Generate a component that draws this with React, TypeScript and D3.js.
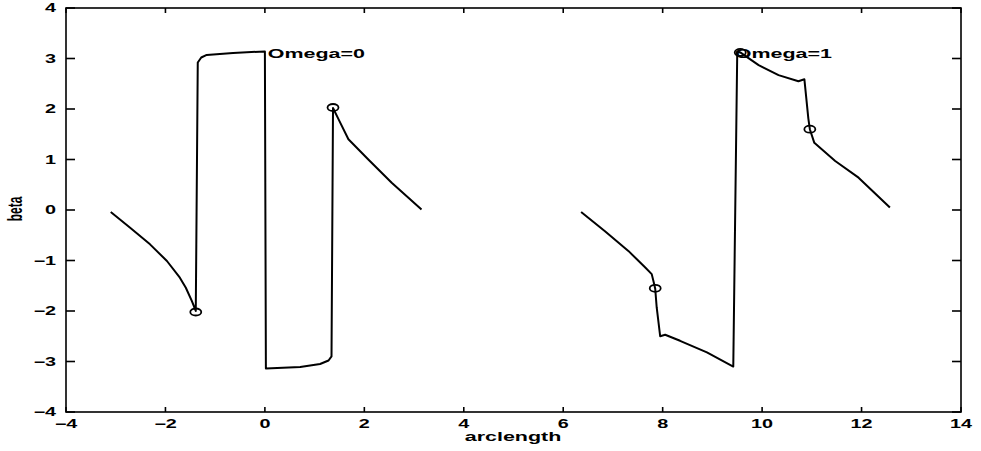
import React, { useEffect, useRef } from "react";
import * as d3 from "d3";

// beta vs arclength
const omega0Line: [number, number][] = [
  [-3.1, -0.04], [-2.71, -0.35], [-2.31, -0.68], [-1.97, -1.01], [-1.71, -1.34],
  [-1.59, -1.54], [-1.47, -1.8], [-1.41, -1.95], [-1.39, -2.0], [-1.35, 2.92],
  [-1.28, 3.02], [-1.17, 3.07], [-0.64, 3.11], [0.0, 3.14], [0.02, -3.14],
  [0.71, -3.11], [1.11, -3.05], [1.28, -2.98], [1.34, -2.9], [1.37, 2.02],
  [1.48, 1.8], [1.68, 1.4], [2.08, 1.0], [2.55, 0.54], [3.15, 0.01],
];
const omega1Line: [number, number][] = [
  [6.36, -0.04], [6.84, -0.42], [7.31, -0.81], [7.65, -1.14], [7.78, -1.27],
  [7.83, -1.47], [7.85, -1.56], [7.88, -1.93], [7.95, -2.5], [8.05, -2.47],
  [8.35, -2.59], [8.89, -2.82], [9.42, -3.1], [9.5, 3.14], [9.56, 3.12],
  [9.93, 2.87], [10.33, 2.67], [10.73, 2.55], [10.85, 2.59], [10.93, 1.81],
  [10.96, 1.6], [11.05, 1.33], [11.47, 0.97], [11.94, 0.64], [12.57, 0.05],
];
const omega0Marks: [number, number][] = [[-1.39, -2.02], [1.37, 2.03]];
const omega1Marks: [number, number][] = [[7.85, -1.55], [10.96, 1.6], [9.56, 3.12]];
const labels: { text: string; x: number; y: number }[] = [
  { text: "Omega=0", x: 0.06, y: 3.1 },
  { text: "Omega=1", x: 9.45, y: 3.1 },
];
const xTicks = [-4, -2, 0, 2, 4, 6, 8, 10, 12, 14];
const yTicks = [-4, -3, -2, -1, 0, 1, 2, 3, 4];

const W = 981;
const H = 451;
const STRETCH = 1.65; // the scan is wider than it is tall

const App = () => {
  const svgRef = useRef<SVGSVGElement>(null);

  useEffect(() => {
    const svg = d3.select(svgRef.current);
    svg.selectAll("*").remove();

    const left = 66, right = 961, top = 8, bottom = 412;
    const x = d3.scaleLinear().domain([-4, 14]).range([left, right]);
    const y = d3.scaleLinear().domain([-4, 4]).range([bottom, top]);

    const font = "'Liberation Sans', Arial, sans-serif";

    // box
    svg
      .append("rect")
      .attr("x", left)
      .attr("y", top)
      .attr("width", right - left)
      .attr("height", bottom - top)
      .attr("fill", "none")
      .attr("stroke", "#000")
      .attr("stroke-width", 1.6);

    // inward ticks on all four sides
    const tickG = svg.append("g").attr("stroke", "#000").attr("stroke-width", 1.6);
    xTicks.forEach((t) => {
      tickG.append("line").attr("x1", x(t)).attr("x2", x(t)).attr("y1", bottom).attr("y2", bottom - 5);
      tickG.append("line").attr("x1", x(t)).attr("x2", x(t)).attr("y1", top).attr("y2", top + 5);
    });
    yTicks.forEach((t) => {
      tickG.append("line").attr("x1", left).attr("x2", left + 9).attr("y1", y(t)).attr("y2", y(t));
      tickG.append("line").attr("x1", right).attr("x2", right - 9).attr("y1", y(t)).attr("y2", y(t));
    });

    const addText = (
      str: string,
      px: number,
      py: number,
      anchor: string,
      size: number,
      rotate = 0
    ) => {
      svg
        .append("text")
        .attr("transform", `translate(${px},${py}) scale(${STRETCH},1) rotate(${rotate})`)
        .attr("text-anchor", anchor)
        .attr("dominant-baseline", "central")
        .attr("font-family", font)
        .attr("font-weight", "bold")
        .attr("font-size", size)
        .attr("fill", "#000")
        .text(str);
    };

    xTicks.forEach((t) => addText(t < 0 ? `\u2212${-t}` : `${t}`, x(t), 424, "middle", 12));
    yTicks.forEach((t) => addText(t < 0 ? `\u2212${-t}` : `${t}`, 56, y(t), "end", 12));

    addText("arclength", 513, 437, "middle", 13);
    addText("beta", 15, 209, "middle", 12, -90);

    const line = d3
      .line<[number, number]>()
      .x((d) => x(d[0]))
      .y((d) => y(d[1]));

    [omega0Line, omega1Line].forEach((data) => {
      svg
        .append("path")
        .attr("d", line(data))
        .attr("fill", "none")
        .attr("stroke", "#000")
        .attr("stroke-width", 2)
        .attr("stroke-linejoin", "round");
    });

    svg
      .append("g")
      .selectAll("ellipse")
      .data([...omega0Marks, ...omega1Marks])
      .enter()
      .append("ellipse")
      .attr("cx", (d) => x(d[0]))
      .attr("cy", (d) => y(d[1]))
      .attr("rx", 5.5)
      .attr("ry", 3.5)
      .attr("fill", "none")
      .attr("stroke", "#000")
      .attr("stroke-width", 1.8);

    labels.forEach((l) => addText(l.text, x(l.x), y(l.y), "start", 13));
  }, []);

  return (
    <svg
      ref={svgRef}
      width={W}
      height={H}
      style={{ position: "absolute", left: 0, top: 0, background: "#fff" }}
    ></svg>
  );
};

export default App;
